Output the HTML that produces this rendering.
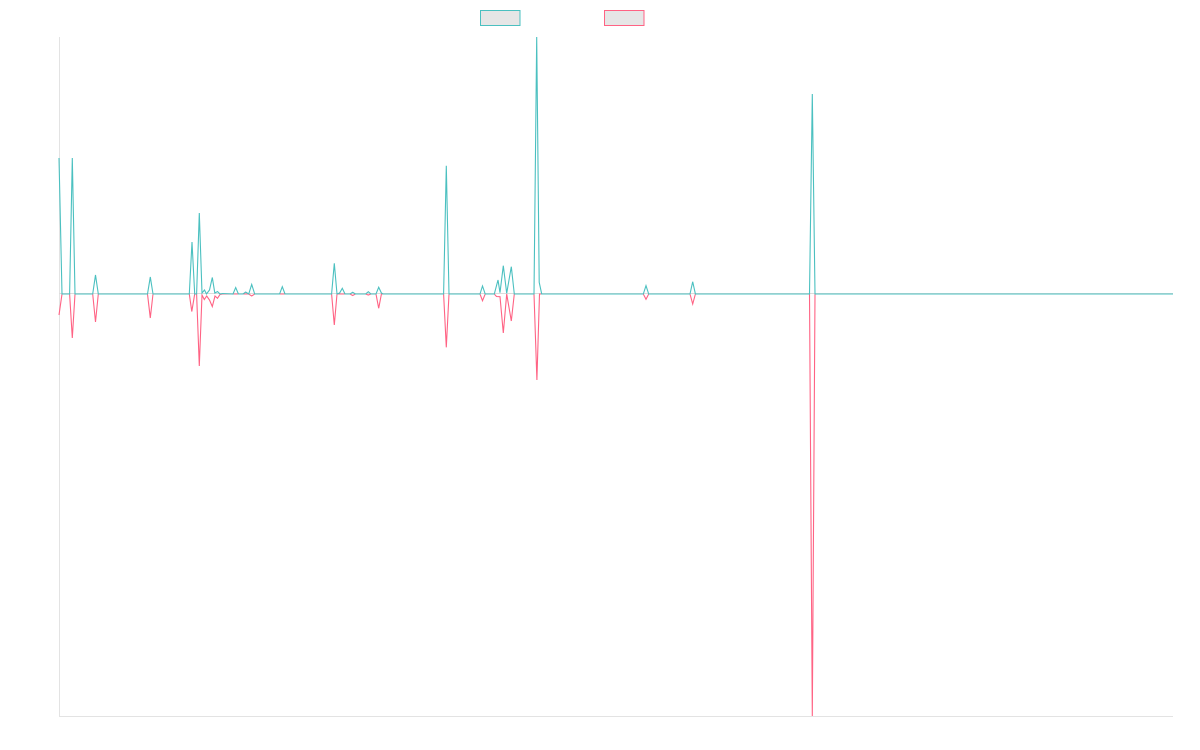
<!DOCTYPE html>
<html>
<head>
<meta charset="utf-8">
<style>
html,body{margin:0;padding:0;background:#fff;}
svg{display:block;}
</style>
</head>
<body>
<svg width="1200" height="750" viewBox="0 0 1200 750" xmlns="http://www.w3.org/2000/svg">
  <rect x="0" y="0" width="1200" height="750" fill="#ffffff"/>
  <!-- axes -->
  <line x1="59.5" y1="37" x2="59.5" y2="717" stroke="#e3e3e3" stroke-width="1"/>
  <line x1="59" y1="716.5" x2="1173" y2="716.5" stroke="#e3e3e3" stroke-width="1"/>
  <line x1="59" y1="293.5" x2="1173" y2="293.5" stroke="#dcdcdc" stroke-width="1"/>

  <!-- legend -->
  <rect x="480.5" y="10.5" width="39.5" height="15" fill="#e6e6e6" stroke="rgb(75,192,192)" stroke-width="1"/>
  <rect x="604.5" y="10.5" width="39.5" height="15" fill="#e6e6e6" stroke="rgb(255,99,132)" stroke-width="1"/>

  <!-- pink series (drawn below) -->
  <polyline fill="none" stroke="rgb(255,99,132)" stroke-width="1.1" stroke-linejoin="miter" points="
    59,315 62,294 69.6,294 72.3,338 75,294 92.7,294 95.5,322 98.3,294
    147.5,294 150.3,318 153,294 189.3,294 191.8,311.5 194.7,294 196.6,294 199.3,366
    202,295 204.3,299.5 206.7,296 209.5,300 212.3,306.5 215,296 217.5,298.3 220,294.5 222.6,294
    248.7,294 251.7,296 254.7,294
    331.6,294 334.3,325 337,294 350,294 352.7,295.5 355.4,294 365.6,294 368.3,295 371,294
    376,294 378.7,308.3 381.4,294 443.6,294 446.3,347.3 449,294
    480,294 482.5,300.7 485.2,294 494.3,294 496.5,296.5 500,296.7 503.3,333 506.7,294 511.3,321 514.3,294
    534,294 536.9,380 539.5,294 643.3,294 646,299.3 648.7,294 690,294 692.7,304 695.4,294
    809.5,294 812.3,716 815,294 1173,294"/>

  <!-- teal series (drawn on top) -->
  <polyline fill="none" stroke="rgb(75,192,192)" stroke-width="1.1" stroke-linejoin="miter" points="
    59,158 62,294 69.6,294 72.3,158 75,294 92.7,294 95.5,275 98.3,294
    147.5,294 150.3,277 153,294 189.3,294 192,242 194.7,294 196.6,294 199.3,213
    202,293 204.5,290 206.5,294 209.5,290 212.3,277.5 214.8,293 217.5,291.5 220,294 222.6,293.5
    233,294 235.7,287.5 238.4,294 243,294 245.7,292 248.7,294 251.7,284.5 254.7,294
    279.6,294 282.3,286.7 285,294
    331.6,294 334.3,263.3 337,294 339.6,293 342.3,288.3 345,294 350,294 352.7,292.3 355.4,294
    365.6,294 368.3,291.7 371,294 376,294 378.7,287.3 381.4,293 383,294
    443.6,294 446.3,165.7 449,294 480,294 482.5,286 485.2,294 494.3,294 498,280 500,292.7
    503.3,265.7 506.7,293.3 511.3,266.7 514.3,294
    534,294 536.7,37 539.2,282.3 541.7,294 643.3,294 646,285.7 648.7,294
    690,294 692.7,281.7 695.4,294 809.5,294 812.3,94 815,294 1173,294"/>
</svg>
</body>
</html>
